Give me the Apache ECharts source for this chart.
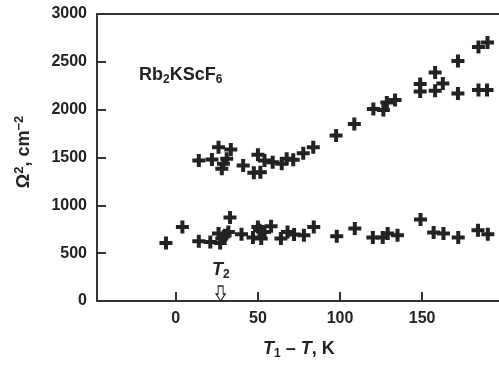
<!DOCTYPE html>
<html>
<head>
<meta charset="utf-8">
<script src="https://cdn.jsdelivr.net/npm/echarts@6/dist/echarts.min.js"></script>
<style>
html,body{margin:0;padding:0;background:#fff;}
#chart{width:499px;height:367px;}
</style>
</head>
<body>
<div id="chart"></div>
<script>
// Upper branch (T1 - T, Omega^2)
var upperX = [14, 22, 26, 33.5, 31, 29, 28, 41, 50, 47.5, 51.5, 54, 59, 64.5, 67.5, 71.5, 77.6, 83.7, 97.6, 108.7, 120.3, 126.4, 128.5, 133.5, 148.8, 148.8, 157.9, 157.9, 162.6, 171.8, 171.8, 184.3, 189.8, 184.3, 189.5];
var upperY = [1469, 1479, 1607, 1583, 1486, 1434, 1382, 1417, 1528, 1340, 1347, 1469, 1451, 1434, 1486, 1476, 1545, 1607, 1729, 1851, 2007, 1997, 2076, 2101, 2268, 2191, 2389, 2198, 2274, 2510, 2170, 2656, 2701, 2205, 2205];
// Lower branch
var lowerX = [-6, 4, 14, 21, 26, 27, 28, 30, 32, 33, 40, 47, 50, 51, 52, 54, 58, 64, 68, 72, 78, 84, 98, 109, 120, 126, 129, 135, 149, 157, 163, 172, 184, 190];
var lowerY = [607, 774, 625, 618, 705, 607, 653, 687, 722, 872, 698, 663, 774, 740, 653, 722, 781, 653, 722, 695, 687, 774, 677, 757, 663, 663, 705, 687, 851, 716, 705, 663, 740, 698];
var xTicks = [0, 50, 100, 150];
var yTicks = [0, 500, 1000, 1500, 2000, 2500, 3000];
var t2 = 27.3;

function pairs(xs, ys) { return xs.map(function (x, i) { return [x, ys[i]]; }); }

var FONT = '"Liberation Sans", Arial, sans-serif';
var INK = '#222';
var PLUS = 'path://M4.5,0H8.5V4.5H13V8.5H8.5V13H4.5V8.5H0V4.5H4.5Z';

var chart = echarts.init(document.getElementById('chart'), null, {renderer: 'canvas'});
var scatterStyle = {
  type: 'scatter', symbol: PLUS, symbolSize: 13,
  itemStyle: {color: INK, opacity: 1}, silent: true, animation: false
};
chart.setOption({
  animation: false,
  backgroundColor: '#fff',
  grid: {left: 97, top: 14, right: 0, bottom: 66, containLabel: false},
  xAxis: [{
    type: 'value', min: -48, max: 196.8, position: 'bottom',
    axisLine: {show: true, onZero: false, lineStyle: {color: '#333', width: 2}},
    axisTick: {show: true, inside: true, length: 9, customValues: xTicks, lineStyle: {color: '#333', width: 2}},
    axisLabel: {customValues: xTicks, margin: 10, fontSize: 16, fontWeight: 'bold', fontFamily: FONT, color: INK,
      formatter: function (v) { return String(v); }},
    splitLine: {show: false}
  }, {
    type: 'value', min: -48, max: 196.8, position: 'top',
    axisLine: {show: true, onZero: false, lineStyle: {color: '#333', width: 2}},
    axisTick: {show: false}, axisLabel: {show: false}, splitLine: {show: false}
  }],
  yAxis: {
    type: 'value', min: 0, max: 3000, interval: 500,
    axisLine: {show: true, onZero: false, lineStyle: {color: '#333', width: 2}},
    axisTick: {show: true, inside: true, length: 9, lineStyle: {color: '#333', width: 2}},
    axisLabel: {margin: 10, fontSize: 16, fontWeight: 'bold', fontFamily: FONT, color: INK,
      formatter: function (v) { return String(v); }},
    splitLine: {show: false}
  },
  series: [
    Object.assign({}, scatterStyle, {name: 'upper', data: pairs(upperX, upperY)}),
    Object.assign({}, scatterStyle, {name: 'lower', data: pairs(lowerX, lowerY),
      markPoint: {
        silent: true, animation: false,
        symbol: 'path://M2,0H7V8H9L4.5,15L0,8H2Z', symbolSize: [9, 15], symbolOffset: [0, -7.5],
        itemStyle: {color: '#fff', borderColor: INK, borderWidth: 1.2, opacity: 1},
        label: {show: false},
        data: [{coord: [t2, 0]}]
      }})
  ],
  graphic: [
    {
      type: 'text', left: 139, top: 66, silent: true,
      style: {
        text: '{m|Rb}{s|2}{m|KScF}{s|6}',
        rich: {
          m: {fontSize: 18, fontWeight: 'bold', fontFamily: FONT, fill: INK, lineHeight: 20, verticalAlign: 'top'},
          s: {fontSize: 12, fontWeight: 'bold', fontFamily: FONT, fill: INK, lineHeight: 7, verticalAlign: 'bottom'}
        }
      }
    },
    {
      type: 'text', left: 212, top: 261, silent: true,
      style: {
        text: '{m|T}{s|2}',
        rich: {
          m: {fontSize: 18, fontWeight: 'bold', fontStyle: 'italic', fontFamily: FONT, fill: INK, lineHeight: 20, verticalAlign: 'top'},
          s: {fontSize: 12, fontWeight: 'bold', fontFamily: FONT, fill: INK, lineHeight: 7, verticalAlign: 'bottom'}
        }
      }
    },
    {
      type: 'text', left: 263, top: 340, silent: true,
      style: {
        text: '{i|T}{s|1}{m| – }{i|T}{m|, K}',
        rich: {
          i: {fontSize: 18, fontWeight: 'bold', fontStyle: 'italic', fontFamily: FONT, fill: INK, lineHeight: 20, verticalAlign: 'top'},
          m: {fontSize: 18, fontWeight: 'bold', fontFamily: FONT, fill: INK, lineHeight: 20, verticalAlign: 'top'},
          s: {fontSize: 12, fontWeight: 'bold', fontFamily: FONT, fill: INK, lineHeight: 7, verticalAlign: 'bottom'}
        }
      }
    },
    {
      type: 'text', x: 23, y: 152, rotation: Math.PI / 2, silent: true,
      style: {
        text: '{m|Ω}{p|2}{m|, cm}{p|−2}',
        align: 'center', verticalAlign: 'middle',
        rich: {
          m: {fontSize: 18, fontWeight: 'bold', fontFamily: FONT, fill: INK, lineHeight: 20, verticalAlign: 'bottom'},
          p: {fontSize: 13, fontWeight: 'bold', fontFamily: FONT, fill: INK, lineHeight: 10, verticalAlign: 'top'}
        }
      }
    }
  ]
});
</script>
</body>
</html>
